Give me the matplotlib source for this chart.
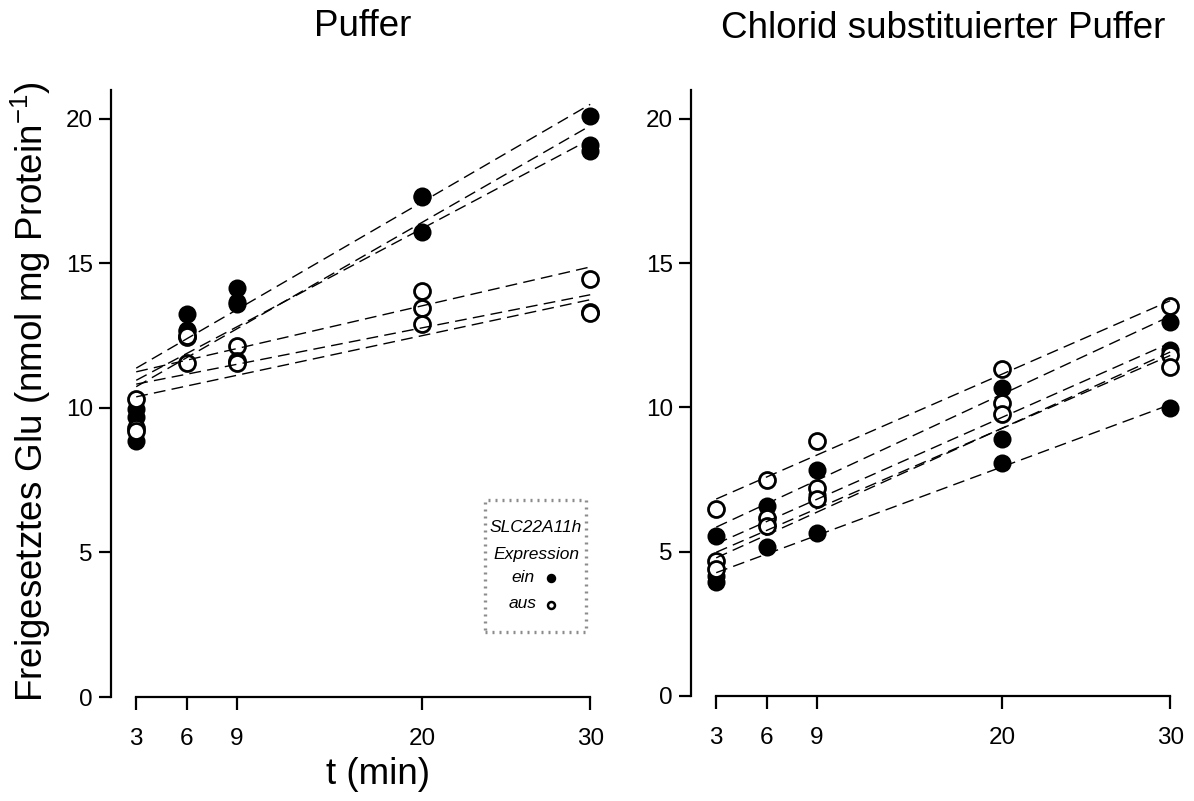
import numpy as np
import matplotlib
matplotlib.use("Agg")
import matplotlib.pyplot as plt
from matplotlib.patches import Rectangle

plt.rcParams['font.family'] = ['Liberation Sans', 'DejaVu Sans']
plt.rcParams['mathtext.fontset'] = 'custom'
plt.rcParams['mathtext.rm'] = 'Liberation Sans'

# sampling times (min)
times = [3, 6, 9, 20, 30]
xtick_labels = ['3', '6', '9', '20', '30']
yticks = [0, 5, 10, 15, 20]

panel_titles = ['Puffer', 'Chlorid substituierter Puffer']

# released glutamate (nmol mg protein^-1), standard buffer
puffer_ein = [
    [9.95, 13.25, 14.15, 17.35, 20.1],
    [9.7, 12.65, 13.6, 16.1, 19.1],
    [8.85, 12.7, 13.65, 17.3, 18.9],
]
puffer_aus = [
    [10.3, 12.45, 12.13, 14.03, 14.46],
    [9.3, 12.5, 11.62, 13.46, 13.31],
    [9.2, 11.55, 11.55, 12.92, 13.3],
]

# chloride-substituted buffer
chlorid_ein = [
    [5.55, 6.6, 7.84, 10.66, 12.96],
    [3.94, 5.17, 5.65, 8.07, 9.97],
    [4.15, 5.95, 6.95, 8.9, 11.99],
]
chlorid_aus = [
    [6.48, 7.5, 8.82, 11.32, 13.5],
    [4.67, 6.17, 7.21, 10.17, 11.81],
    [4.4, 5.88, 6.84, 9.78, 11.39],
]

legend_title = ['SLC22A11h', 'Expression']
legend_labels = ['ein', 'aus']

fig = plt.figure(figsize=(11.94, 8.01), dpi=100)
W, H = 1194, 801


def px_axes(x0, x1, ytop, ybot):
    return fig.add_axes([x0 / W, 1 - ybot / H, (x1 - x0) / W, (ybot - ytop) / H])


ax_l = px_axes(111, 605, 90, 697)
ax_r = px_axes(691, 1185, 90, 696)

t = np.array(times, dtype=float)
t_fit = np.array([3.0, 30.0])

for ax, ein, aus in [(ax_l, puffer_ein, puffer_aus), (ax_r, chlorid_ein, chlorid_aus)]:
    for series in ein:
        ax.plot(t, series, 'o', ms=11.5, mfc='black', mec='black', mew=1.5, zorder=3)
    for series in aus:
        ax.plot(t, series, 'o', ms=11.5, mfc='white', mec='black', mew=2.0, zorder=4)
    for series in ein + aus:
        k, d = np.polyfit(t, series, 1)
        ax.plot(t_fit, k * t_fit + d, color='black', lw=1.0, dashes=(8.5, 4.5), zorder=5)

    ax.set_xlim(1.5, 30.88)
    ax.set_ylim(0, 21)
    ax.set_xticks(times)
    ax.set_xticklabels(xtick_labels)
    ax.set_yticks(yticks)
    for s in ['top', 'right']:
        ax.spines[s].set_visible(False)
    ax.spines['bottom'].set_bounds(3, 30)
    ax.spines['left'].set_linewidth(1.6)
    ax.spines['bottom'].set_linewidth(1.6)
    ax.tick_params(axis='both', direction='out', length=9, width=1.6,
                   labelsize=17.5, color='black')
    ax.tick_params(axis='x', pad=13)
    ax.tick_params(axis='y', pad=4)
    ax.patch.set_alpha(0)

# titles and axis labels
fig.text(363 / W, 1 - 26 / H, panel_titles[0], ha='center', va='center', fontsize=26.5)
fig.text(943 / W, 1 - 28 / H, panel_titles[1], ha='center', va='center', fontsize=26.5)
fig.text(378 / W, 1 - 775 / H, 't (min)', ha='center', va='center', fontsize=26.5)
fig.text(31 / W, 1 - 392 / H,
         r'Freigesetztes Glu (nmol mg Protein$^{\mathregular{-1}}$)',
         ha='center', va='center', rotation=90, fontsize=26.5)

# expression legend box
def ax_frac(px, py):
    return ((px - 111) / 494, (697 - py) / 607)

bx0, by0 = ax_frac(485, 632)
bx1, by1 = ax_frac(586, 500)
ax_l.add_patch(Rectangle((bx0, by0), bx1 - bx0, by1 - by0, transform=ax_l.transAxes,
                         fill=False, edgecolor='#8c8c8c', lw=2.4, ls=(0, (0.6, 1.5)),
                         clip_on=False, zorder=6))
for txt, py in zip(legend_title, [527, 554]):
    x, y = ax_frac(536, py)
    ax_l.text(x, y, txt, transform=ax_l.transAxes, ha='center', va='center',
              fontsize=12.5, style='italic')
for lab, py, fc in zip(legend_labels, [577, 604], ['black', 'white']):
    x, y = ax_frac(523, py)
    ax_l.text(x, y, lab, transform=ax_l.transAxes, ha='center', va='center',
              fontsize=12.5, style='italic')
    mx, my = ax_frac(551, py + 1)
    ax_l.plot([mx], [my], 'o', ms=5, mfc=fc, mec='black', mew=1.8,
              transform=ax_l.transAxes, clip_on=False, zorder=7)

fig.savefig('out.png', dpi=100)
